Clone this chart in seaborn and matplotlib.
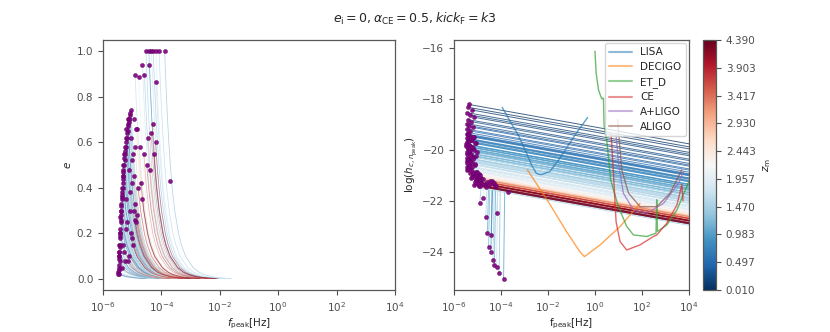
import numpy as np
import pandas as pd
import matplotlib
matplotlib.use("Agg")
import matplotlib.pyplot as plt
import seaborn as sns

# ---------------- data ----------------
# per-binary tracks: redshift, starting peak frequency (log10 Hz), starting eccentricity,
# starting characteristic strain (log10)
z_m = [0.01, 0.04, 0.07, 0.10, 0.13, 0.16, 0.20, 0.24, 0.28, 0.32, 0.36, 0.40, 0.44, 0.48,
       0.52, 0.57, 0.62, 0.67, 0.72, 0.77, 0.82, 0.87, 0.92, 0.97, 1.02, 1.07, 1.12, 1.17,
       1.22, 1.28, 1.34, 1.40, 1.46, 1.52, 1.58, 1.64, 1.70, 1.76, 1.82, 1.88,
       0.545, 0.595, 0.645, 0.695, 0.745, 0.795, 0.845, 0.895, 0.945, 0.995, 1.045, 1.095, 1.145,
       1.195, 1.25, 1.31, 1.37, 1.43, 1.49, 1.55, 1.61, 1.67, 1.73, 1.79, 1.85,
       1.95, 2.03, 2.11, 2.19, 2.27, 2.36, 2.45, 2.54, 2.63, 2.72, 2.81, 2.90,
       1.99, 2.15, 2.31, 2.49, 2.67, 2.85, 3.05, 3.25, 3.45, 3.65, 3.85, 4.05, 4.20, 4.32,
       3.00, 3.10, 3.20, 3.30, 3.40, 3.50, 3.60, 3.70, 3.80, 3.90, 4.00, 4.10, 4.25, 4.39,
       1.20, 0.90, 1.50, 1.10, 1.70, 1.30, 1.00, 1.60, 0.80, 1.40, 1.90, 1.15, 1.45, 2.20]
logf0 = [-5.36, -5.40, -5.22, -5.44, -5.33, -5.15, -5.42, -5.28, -5.46, -5.36, -5.20, -5.44, -5.30, -5.41,
         -5.43, -5.32, -5.14, -5.40, -5.25, -5.45, -5.08, -5.36, -5.47, -5.20, -5.42, -5.30, -5.04, -5.38,
         -5.46, -5.26, -5.16, -5.41, -5.33, -5.44, -5.22, -5.37, -5.12, -5.43, -5.31, -5.46,
         -5.39, -5.18, -5.45, -5.29, -5.35, -5.10, -5.47, -5.32, -5.23, -5.42, -5.15, -5.37, -5.44,
         -5.27, -5.34, -5.06, -5.43, -5.19, -5.40, -5.30, -5.46, -5.12, -5.36, -5.24, -5.42,
         -5.22, -5.05, -5.30, -5.10, -4.95, -5.18, -4.98, -5.25, -5.02, -4.85, -5.08, -4.90,
         -5.00, -5.20, -4.88, -5.08, -5.28, -4.75, -4.95, -4.40, -5.02, -4.35, -4.70, -5.15, -4.25, -4.92,
         -4.95, -5.05, -4.45, -4.90, -5.10, -4.60, -4.85, -4.30, -4.80, -4.98, -4.50, -4.88, -4.20, -4.65,
         -4.53, -4.43, -4.34, -4.28, -4.19, -4.08, -3.89, -4.65, -4.41, -4.90, -4.78, -4.58, -4.18, -3.72]
e0 = [0.05, 0.30, 0.62, 0.12, 0.45, 0.70, 0.20, 0.55, 0.02, 0.38, 0.66, 0.15, 0.50, 0.27,
      0.08, 0.42, 0.68, 0.25, 0.55, 0.12, 0.72, 0.35, 0.03, 0.60, 0.18, 0.48, 0.74, 0.30,
      0.06, 0.52, 0.65, 0.22, 0.40, 0.10, 0.58, 0.33, 0.70, 0.15, 0.45, 0.04,
      0.28, 0.64, 0.10, 0.50, 0.36, 0.70, 0.02, 0.44, 0.58, 0.20, 0.67, 0.32, 0.09,
      0.53, 0.40, 0.73, 0.14, 0.62, 0.26, 0.47, 0.05, 0.69, 0.37, 0.56, 0.19,
      0.35, 0.62, 0.15, 0.48, 0.70, 0.25, 0.55, 0.08, 0.42, 0.66, 0.30, 0.58,
      0.52, 0.22, 0.66, 0.38, 0.12, 0.58, 0.30, 0.48, 0.18, 0.64, 0.42, 0.08, 0.55, 0.26,
      0.45, 0.20, 0.62, 0.33, 0.10, 0.55, 0.28, 0.68, 0.40, 0.15, 0.50, 0.25, 0.60, 0.35,
      1.00, 1.00, 1.00, 1.00, 1.00, 1.00, 1.00, 0.94, 0.94, 0.895, 0.885, 0.895, 0.865, 0.43]
logh0 = [-18.22, -18.33, -18.44, -18.54, -18.63, -18.72, -18.81, -18.89, -18.97, -19.05, -19.12, -19.19, -19.26, -19.32,
         -19.38, -19.45, -19.51, -19.57, -19.63, -19.69, -19.75, -19.81, -19.86, -19.92, -19.97, -20.02, -20.08, -20.13,
         -20.18, -20.23, -20.29, -20.34, -20.39, -20.44, -20.50, -20.55, -20.60, -20.66, -20.72, -20.78,
         -19.41, -19.48, -19.54, -19.60, -19.66, -19.72, -19.78, -19.83, -19.89, -19.94, -19.99, -20.05, -20.10,
         -20.15, -20.20, -20.26, -20.31, -20.36, -20.41, -20.47, -20.52, -20.57, -20.63, -20.69, -20.75,
         -20.84, -20.87, -20.90, -20.93, -20.96, -20.99, -21.02, -21.05, -21.08, -21.11, -21.13, -21.15,
         -20.85, -20.91, -20.97, -21.03, -21.09, -21.14, -21.19, -21.23, -21.27, -21.31, -21.35, -21.39, -21.41, -21.43,
         -21.18, -21.20, -21.22, -21.24, -21.26, -21.28, -21.30, -21.32, -21.34, -21.36, -21.38, -21.40, -21.42, -21.44,
         -23.80, -24.00, -24.32, -24.50, -24.58, -24.83, -25.07, -22.63, -23.34, -22.09, -21.90, -23.26, -22.47, -21.65]

# shared shape of an e - f_peak track (e, log10 frequency offset)
e_tpl = [1.0, 0.95, 0.9, 0.8, 0.7, 0.6, 0.5, 0.4, 0.3, 0.2, 0.15, 0.1, 0.05, 0.03, 0.02,
         0.01, 0.005, 0.002]
df_tpl = [0.0, 0.015, 0.031, 0.064, 0.101, 0.144, 0.195, 0.259, 0.346, 0.476, 0.574, 0.718,
          0.98, 1.18, 1.342, 1.622, 1.905, 2.28]
strain_slope = -0.165     # d log h / d log f of the inspiral lines
h_join = -21.5            # level where eccentric tracks join the band

# detector sensitivity curves (log10 f, log10 h)
lisa_f = [-3.95, -3.6, -3.27, -2.95, -2.7, -2.5, -2.3, -1.92, -1.55, -1.21, -0.8, -0.31]
lisa_h = [-18.33, -18.9, -19.41, -20.05, -20.59, -20.92, -20.98, -20.85, -20.4, -19.93, -19.35, -18.73]
decigo_f = [-2.88, -1.99, -1.21, -0.64, -0.45, 0.22, 1.07, 1.92]
decigo_h = [-20.78, -22.03, -23.21, -24.0, -24.19, -23.73, -23.01, -22.1]
etd_f = [0.0, 0.05, 0.15, 0.25, 0.29, 0.36, 0.39, 0.5, 0.67, 0.79, 1.0, 1.35, 1.64, 2.21, 2.6, 2.63, 2.66, 3.06, 3.49, 4.0]
etd_h = [-16.13, -16.98, -17.64, -17.9, -18.0, -17.97, -19.08, -19.6, -21.18, -21.57, -22.23, -23.0, -23.34, -23.4, -23.27, -21.96, -23.2, -22.95, -22.36, -21.24]
ce_f = [0.69, 0.79, 0.9, 1.07, 1.35, 1.92, 2.49, 2.63, 3.06, 3.49, 3.7, 3.75]
ce_h = [-19.38, -20.98, -22.82, -23.6, -23.93, -23.73, -23.4, -23.34, -22.88, -22.16, -21.37, -22.0]
aplus_f = [0.9, 1.0, 1.21, 1.64, 2.21, 2.92, 3.56, 3.77]
aplus_h = [-19.4, -20.52, -21.7, -22.36, -22.49, -22.1, -21.31, -20.85]
aligo_f = [0.97, 1.0, 1.14, 1.43, 1.92, 2.63, 3.2, 3.7]
aligo_h = [-18.82, -19.21, -20.78, -21.7, -22.23, -22.23, -21.7, -20.78]
detectors = ["LISA", "DECIGO", "ET_D", "CE", "A+LIGO", "ALIGO"]

cbar_ticks = [0.010, 0.497, 0.983, 1.470, 1.957, 2.443, 2.930, 3.417, 3.903, 4.390]
z_min, z_max = 0.01, 4.39

# ---------------- build long tables ----------------
e_arr = np.array(e_tpl)
d_arr = np.array(df_tpl)
left_rows, right_rows = [], []
for i, (z, f0, ee, h0) in enumerate(zip(z_m, logf0, e0, logh0)):
    d0 = np.interp(ee, e_arr[::-1], d_arr[::-1])
    mask = e_arr < ee
    es = np.concatenate([[ee], e_arr[mask]])
    fs = np.concatenate([[f0], f0 + d_arr[mask] - d0])
    for fv, ev in zip(fs, es):
        left_rows.append((i, z, 10 ** fv, ev))
    if h0 < h_join:
        pts = [(f0, h0), (f0 + 0.05, h_join), (4.0, h_join + strain_slope * (4.0 - f0 - 0.05))]
    else:
        pts = [(f0, h0), (4.0, h0 + strain_slope * (4.0 - f0))]
    for fv, hv in pts:
        right_rows.append((i, z, 10 ** fv, hv))
left_df = pd.DataFrame(left_rows, columns=["track", "z", "f", "e"])
right_df = pd.DataFrame(right_rows, columns=["track", "z", "f", "h"])
start_df = pd.DataFrame({"f": 10 ** np.array(logf0), "e": e0, "h": logh0})

det_rows = []
for name, fs, hs in zip(detectors,
                        [lisa_f, decigo_f, etd_f, ce_f, aplus_f, aligo_f],
                        [lisa_h, decigo_h, etd_h, ce_h, aplus_h, aligo_h]):
    for k, (fv, hv) in enumerate(zip(fs, hs)):
        det_rows.append((name, k, 10 ** fv, hv))
det_df = pd.DataFrame(det_rows, columns=["detector", "k", "f", "h"])

# ---------------- plot ----------------
sns.set_theme(style="ticks", rc={
    "axes.edgecolor": ".35", "axes.linewidth": 0.9,
    "xtick.color": ".3", "ytick.color": ".3", "text.color": ".15",
    "axes.labelcolor": ".15", "xtick.labelsize": 7.5, "ytick.labelsize": 7.5,
    "axes.labelsize": 7.5, "xtick.major.size": 3.5, "ytick.major.size": 3.5,
    "xtick.major.width": 0.8, "ytick.major.width": 0.8,
})
plt.rcParams["font.family"] = ["DejaVu Sans"]

cmap = plt.get_cmap("RdBu_r")
norm = matplotlib.colors.Normalize(z_min, z_max)

fig = plt.figure(figsize=(8.3, 3.32), dpi=100)
ax1 = fig.add_axes([0.1241, 0.1265, 0.3518, 0.753])
ax2 = fig.add_axes([0.547, 0.1265, 0.283, 0.753])
cax = fig.add_axes([0.847, 0.1265, 0.0157, 0.753])

# left panel
ax1.set_xscale("log")
sns.lineplot(data=left_df, x="f", y="e", hue="z", units="track", estimator=None, sort=False,
             palette="RdBu_r", hue_norm=norm, lw=0.55, alpha=0.45, legend=False, ax=ax1)
sns.scatterplot(data=start_df, x="f", y="e", color="purple", s=9, linewidth=0.3,
                edgecolor="#5a005a", alpha=0.9, ax=ax1, zorder=5)
ax1.set_xlim(1e-6, 1e4)
ax1.set_ylim(-0.048, 1.048)
ax1.set_xticks([1e-6, 1e-4, 1e-2, 1e0, 1e2, 1e4])
ax1.minorticks_off()
ax1.set_yticks([0.0, 0.2, 0.4, 0.6, 0.8, 1.0])
ax1.set_xlabel(r"$f_{\rm peak}$[Hz]", labelpad=2)
ax1.set_ylabel(r"$e$", labelpad=3)

# right panel
ax2.set_xscale("log")
sns.lineplot(data=right_df, x="f", y="h", hue="z", units="track", estimator=None, sort=False,
             palette="RdBu_r", hue_norm=norm, lw=0.7, alpha=0.75, legend=False, ax=ax2)
sns.scatterplot(data=start_df, x="f", y="h", color="purple", s=9, linewidth=0.3,
                edgecolor="#5a005a", alpha=0.9, ax=ax2, zorder=5)
det_colors = sns.color_palette("tab10", 6)
sns.lineplot(data=det_df, x="f", y="h", hue="detector", hue_order=detectors, units="detector",
             estimator=None, sort=False, palette=det_colors, lw=1.0, alpha=0.7, ax=ax2)
ax2.set_xlim(1e-6, 1e4)
ax2.set_ylim(-25.5, -15.69)
ax2.set_xticks([1e-6, 1e-4, 1e-2, 1e0, 1e2, 1e4])
ax2.minorticks_off()
ax2.set_yticks([-24, -22, -20, -18, -16])
ax2.set_xlabel(r"f$_{\rm peak}$[Hz]", labelpad=2)
ax2.set_ylabel(r"$\log(h_{c,n_{\rm peak}})$", labelpad=2)
leg = ax2.legend(loc="upper right", fontsize=7.5, frameon=True, borderaxespad=0.3,
                 handlelength=2.2, labelspacing=0.45)
leg.get_frame().set_edgecolor("0.8")
for line in leg.get_lines():
    line.set_linewidth(1.5)
    line.set_alpha(0.5)

# colorbar
sm = matplotlib.cm.ScalarMappable(norm=norm, cmap=cmap)
cb = fig.colorbar(sm, cax=cax, ticks=cbar_ticks, format="%.3f")
cb.outline.set_edgecolor(".35")
cb.ax.tick_params(labelsize=7.5, length=3.5)
cb.set_label(r"$z_{\rm m}$", fontsize=7.5)

fig.text(0.5, 0.943, r"$e_{\rm i}=0, \alpha_{\rm CE}=0.5, kick_{\rm F}=k3$",
         ha="center", va="center", fontsize=9)

fig.savefig("out.png", dpi=100)
